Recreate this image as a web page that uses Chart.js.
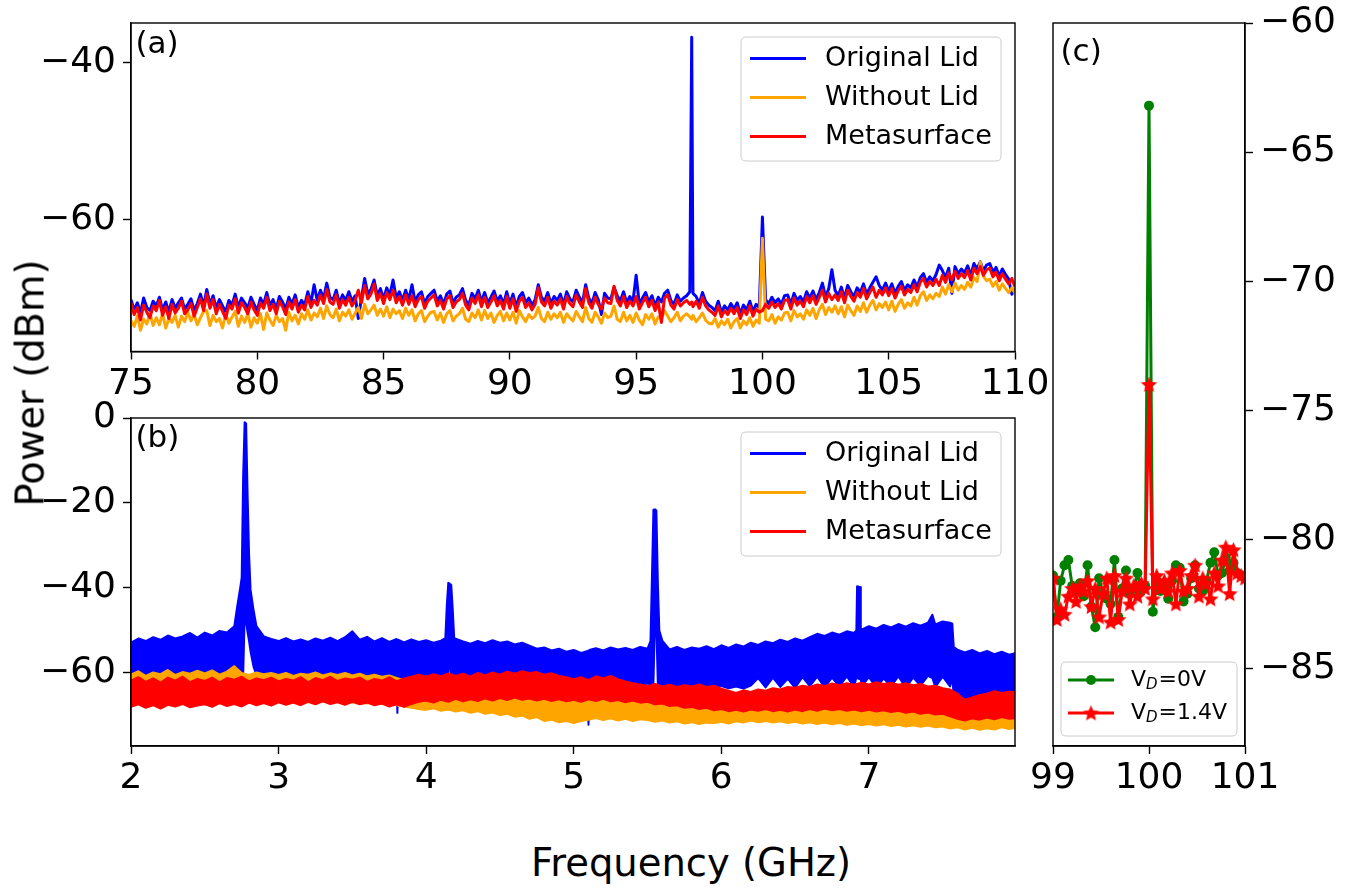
<!DOCTYPE html>
<html><head><meta charset="utf-8">
<script src="https://cdn.jsdelivr.net/npm/chart.js@4.4.0/dist/chart.umd.min.js"></script>
<style>
html,body{margin:0;padding:0;background:#fff;}
body{width:1356px;height:888px;position:relative;overflow:hidden;font-family:"DejaVu Sans",sans-serif;}
canvas{position:absolute;}
#ylab{position:absolute;left:30px;top:383px;transform:translate(-50%,-50%) rotate(-90deg);font-size:38.5px;white-space:nowrap;color:#000;}
#xlab{position:absolute;left:691px;top:862px;transform:translate(-50%,-50%);font-size:38.5px;white-space:nowrap;color:#000;}
</style></head><body>
<canvas id="ca" width="1060" height="410" style="left:0;top:0"></canvas>
<canvas id="cb" width="1060" height="440" style="left:0;top:390px"></canvas>
<canvas id="cc" width="336" height="830" style="left:1020px;top:0"></canvas>
<div id="ylab">Power (dBm)</div>
<div id="xlab">Frequency (GHz)</div>
<script>
// ---------- panel (a) data ----------
const abNames = ['Original Lid', 'Without Lid', 'Metasurface'];
const aXTicks = [75, 80, 85, 90, 95, 100, 105, 110];
const aYTicks = [-60, -40];
const aFreq = [
 75,75.125,75.25,75.375,75.5,75.625,75.75,75.875, 76,76.125,76.25,76.375,76.5,76.625,76.75,76.875,
 77,77.125,77.25,77.375,77.5,77.625,77.75,77.875, 78,78.125,78.25,78.375,78.5,78.625,78.75,78.875,
 79,79.125,79.25,79.375,79.5,79.625,79.75,79.875, 80,80.125,80.25,80.375,80.5,80.625,80.75,80.875,
 81,81.125,81.25,81.375,81.5,81.625,81.75,81.875, 82,82.125,82.25,82.375,82.5,82.625,82.75,82.875,
 83,83.125,83.25,83.375,83.5,83.625,83.75,83.875, 84,84.125,84.25,84.375,84.5,84.625,84.75,84.875,
 85,85.125,85.25,85.375,85.5,85.625,85.75,85.875, 86,86.125,86.25,86.375,86.5,86.625,86.75,86.875,
 87,87.125,87.25,87.375,87.5,87.625,87.75,87.875, 88,88.125,88.25,88.375,88.5,88.625,88.75,88.875,
 89,89.125,89.25,89.375,89.5,89.625,89.75,89.875, 90,90.125,90.25,90.375,90.5,90.625,90.75,90.875,
 91,91.125,91.25,91.375,91.5,91.625,91.75,91.875, 92,92.125,92.25,92.375,92.5,92.625,92.75,92.875,
 93,93.125,93.25,93.375,93.5,93.625,93.75,93.875, 94,94.125,94.25,94.375,94.5,94.625,94.75,94.875,
 95,95.125,95.25,95.375,95.5,95.625,95.75,95.875, 96,96.125,96.25,96.375,96.5,96.625,96.75,96.875,
 97,97.125,97.2,97.25,97.375,97.5,97.625,97.75,97.875,
 98,98.125,98.25,98.375,98.5,98.625,98.75,98.875, 99,99.125,99.25,99.375,99.5,99.625,99.75,99.875,
 100,100.125,100.25,100.375,100.5,100.625,100.75,100.875, 101,101.125,101.25,101.375,101.5,101.625,101.75,101.875,
 102,102.125,102.25,102.375,102.5,102.625,102.75,102.875, 103,103.125,103.25,103.375,103.5,103.625,103.75,103.875,
 104,104.125,104.25,104.375,104.5,104.625,104.75,104.875, 105,105.125,105.25,105.375,105.5,105.625,105.75,105.875,
 106,106.125,106.25,106.375,106.5,106.625,106.75,106.875, 107,107.125,107.25,107.375,107.5,107.625,107.75,107.875,
 108,108.125,108.25,108.375,108.5,108.625,108.75,108.875, 109,109.125,109.25,109.375,109.5,109.625,109.75,109.875,
 110];
const aOrig = [
 -70.2,-71.5,-70.6,-71.9,-70.0,-71.2,-71.6,-70.4, -71.0,-69.9,-71.5,-70.5,-71.8,-70.2,-71.3,-70.6,
 -70.0,-71.4,-70.8,-70.1,-71.6,-70.7,-69.5,-71.0, -68.9,-70.8,-69.7,-71.3,-70.2,-71.0,-71.8,-70.3,
 -70.9,-69.5,-71.2,-70.0,-70.6,-71.3,-69.9,-70.8, -71.6,-70.0,-70.8,-69.3,-71.0,-70.2,-71.4,-69.8,
 -70.5,-71.4,-69.9,-70.8,-69.6,-71.2,-70.3,-70.9, -69.2,-70.6,-68.3,-70.3,-69.0,-70.1,-68.1,-69.9,
 -70.2,-69.0,-70.7,-69.6,-70.3,-69.2,-70.4,-69.7, -72.6,-70.0,-67.5,-69.5,-68.9,-67.7,-69.7,-68.8,
 -70.1,-68.7,-69.6,-67.7,-70.0,-69.2,-70.3,-69.0, -70.2,-68.3,-70.5,-69.6,-69.2,-70.7,-69.8,-69.4,
 -69.0,-70.4,-69.7,-70.8,-69.5,-69.1,-70.6,-69.9, -69.6,-68.8,-70.3,-70.9,-69.4,-70.1,-69.0,-70.5,
 -69.3,-70.6,-69.9,-69.1,-70.4,-69.7,-70.8,-69.2, -70.7,-69.5,-71.1,-69.8,-69.3,-70.6,-70.0,-70.9,
 -70.2,-68.3,-69.9,-70.4,-69.3,-70.7,-69.8,-70.3, -69.5,-70.8,-69.2,-70.1,-70.5,-69.0,-69.9,-70.6,
 -68.3,-70.0,-70.7,-69.3,-70.2,-72.1,-69.4,-70.0, -70.1,-68.6,-69.7,-70.4,-69.2,-70.6,-69.8,-70.4,
 -67.1,-70.8,-70.0,-69.3,-70.5,-69.7,-71.0,-69.9, -70.5,-69.4,-69.0,-70.3,-70.8,-69.6,-70.4,-70.0,
 -69.7,-69.2,-36.8,-69.4,-69.8,-70.7,-69.3,-70.4,-70.9,
 -71.2,-71.6,-70.4,-71.8,-71.0,-71.5,-70.7,-71.4, -70.6,-72.0,-70.9,-71.5,-70.4,-71.7,-70.8,-71.2,
 -59.7,-70.2,-70.7,-69.9,-70.6,-70.1,-70.8,-69.7, -69.6,-70.8,-69.4,-70.3,-69.8,-70.5,-69.2,-70.0,
 -69.1,-70.2,-69.3,-68.1,-69.9,-68.8,-66.4,-69.0, -69.7,-68.6,-70.0,-68.4,-69.2,-69.8,-68.7,-69.3,
 -68.2,-69.5,-68.7,-68.0,-67.3,-68.4,-69.0,-68.1, -69.1,-68.2,-69.4,-68.5,-67.9,-69.0,-68.3,-68.7,
 -67.7,-68.6,-67.4,-66.9,-68.0,-67.3,-67.8,-67.0, -65.8,-66.5,-67.4,-66.2,-69.4,-66.0,-66.9,-66.3,
 -66.8,-65.9,-67.1,-65.6,-66.3,-65.4,-66.5,-65.8, -65.6,-66.7,-66.1,-67.2,-66.3,-67.0,-67.6,-69.5,
 -68.8];
const aNoLid = [
 -72.9,-73.6,-72.3,-74.1,-72.7,-73.3,-71.9,-73.5, -72.5,-73.4,-72.0,-73.8,-72.6,-73.1,-72.2,-73.7,
 -72.3,-73.0,-71.8,-72.9,-72.1,-73.4,-72.5,-71.7, -71.6,-73.5,-72.2,-73.0,-72.6,-73.8,-72.0,-73.2,
 -72.4,-71.7,-73.6,-72.3,-73.1,-72.0,-73.7,-72.5, -73.2,-72.0,-74.0,-71.9,-72.8,-73.5,-72.2,-73.0,
 -72.6,-74.1,-71.8,-72.9,-72.2,-73.3,-72.0,-72.7, -71.5,-72.8,-71.9,-72.4,-71.3,-72.6,-71.0,-72.1,
 -72.5,-71.4,-72.9,-71.8,-72.3,-71.5,-72.7,-71.9, -71.2,-72.6,-70.8,-72.0,-71.5,-70.9,-72.2,-71.4,
 -72.3,-71.1,-72.5,-71.4,-72.0,-71.6,-72.6,-71.3, -72.2,-71.5,-72.9,-72.0,-71.6,-73.0,-72.3,-71.8,
 -71.7,-72.8,-71.9,-73.1,-72.0,-71.6,-72.9,-72.3, -72.0,-71.3,-72.7,-73.0,-71.9,-72.5,-71.5,-72.8,
 -71.6,-72.6,-71.9,-73.1,-72.2,-71.7,-72.9,-71.9, -72.8,-71.8,-73.2,-71.6,-72.4,-73.0,-72.1,-72.6,
 -72.3,-71.2,-72.6,-73.0,-71.8,-72.7,-72.0,-72.5, -71.8,-73.1,-72.0,-72.5,-72.9,-71.7,-72.4,-73.0,
 -71.2,-72.6,-73.1,-71.8,-72.4,-73.2,-71.9,-72.5, -72.3,-71.0,-72.7,-73.0,-71.8,-72.9,-72.2,-73.1,
 -71.9,-72.8,-73.4,-72.1,-72.7,-72.0,-73.3,-72.4, -72.6,-71.6,-72.3,-73.0,-72.5,-71.8,-72.9,-72.3,
 -72.0,-72.4,-72.7,-72.2,-73.0,-72.5,-71.9,-72.8,-73.2,
 -73.3,-72.6,-73.7,-72.9,-73.4,-72.7,-73.8,-73.0, -72.6,-73.8,-72.9,-73.4,-72.5,-73.6,-72.8,-73.2,
 -62.4,-72.7,-72.9,-72.1,-73.2,-72.4,-72.8,-71.9, -71.8,-72.9,-71.6,-72.4,-72.0,-72.7,-71.5,-72.2,
 -71.3,-72.6,-71.5,-70.8,-72.1,-71.2,-71.8,-71.0, -72.0,-71.1,-72.4,-70.9,-71.6,-72.2,-71.0,-71.7,
 -70.6,-71.8,-70.9,-70.3,-71.5,-70.7,-71.2,-70.5, -71.5,-70.4,-71.7,-70.8,-70.2,-71.3,-70.6,-71.0,
 -69.9,-70.9,-69.7,-69.2,-70.3,-69.6,-70.1,-69.4, -69.8,-68.6,-69.5,-68.3,-69.2,-68.1,-69.0,-68.4,
 -68.9,-68.0,-68.6,-67.4,-67.9,-65.4,-67.2,-67.8, -67.6,-68.5,-67.9,-69.0,-68.2,-68.8,-69.3,-68.7,
 -69.4];
const aMeta = [
 -70.6,-72.1,-71.2,-72.8,-70.9,-71.8,-72.5,-71.0, -71.6,-70.3,-72.2,-71.1,-72.6,-70.8,-71.9,-71.3,
 -70.4,-72.0,-71.5,-70.7,-72.3,-71.2,-70.1,-71.6, -69.5,-71.3,-70.2,-72.0,-70.8,-71.7,-72.6,-70.9,
 -71.4,-70.1,-71.9,-70.6,-71.2,-72.0,-70.5,-71.5, -72.2,-70.6,-71.3,-69.9,-71.6,-70.8,-72.0,-70.4,
 -71.1,-72.1,-70.5,-71.4,-70.2,-71.8,-70.9,-71.5, -69.8,-71.2,-70.3,-70.9,-69.6,-70.7,-68.9,-70.5,
 -70.8,-69.6,-71.3,-70.2,-70.9,-69.9,-71.0,-70.3, -69.0,-70.6,-68.4,-70.1,-69.5,-68.2,-70.3,-69.4,
 -70.7,-69.3,-70.2,-69.0,-70.6,-69.8,-70.9,-69.6, -70.8,-69.7,-71.1,-70.2,-69.8,-71.3,-70.4,-70.0,
 -69.6,-71.0,-70.3,-71.4,-70.1,-69.7,-71.2,-70.5, -70.2,-69.4,-70.9,-71.5,-70.0,-70.7,-69.6,-71.1,
 -69.9,-71.2,-70.5,-69.7,-71.0,-70.3,-71.4,-69.8, -71.3,-70.1,-71.7,-70.4,-69.9,-71.2,-70.6,-71.5,
 -70.8,-68.7,-70.5,-71.0,-69.9,-71.3,-70.4,-70.9, -70.1,-71.4,-69.8,-70.7,-71.1,-69.6,-70.5,-71.2,
 -68.8,-70.6,-71.3,-69.9,-70.8,-71.4,-70.0,-70.6, -70.7,-68.5,-70.3,-71.0,-69.8,-71.2,-70.4,-71.0,
 -69.8,-71.4,-70.6,-69.9,-71.1,-70.3,-71.6,-70.5, -73.1,-70.0,-69.6,-70.9,-71.4,-70.2,-71.0,-70.6,
 -70.3,-70.8,-70.5,-71.1,-70.4,-71.3,-69.9,-71.0,-71.5,
 -71.8,-72.2,-71.0,-72.4,-71.6,-72.1,-71.3,-72.0, -71.2,-72.6,-71.5,-72.1,-71.0,-72.3,-71.4,-71.8,
 -71.6,-70.8,-71.3,-70.5,-71.2,-70.7,-71.4,-70.3, -70.2,-71.4,-70.0,-70.9,-70.4,-71.1,-69.8,-70.6,
 -69.7,-70.8,-69.9,-69.0,-70.5,-69.4,-70.2,-69.6, -70.3,-69.2,-70.6,-69.0,-69.8,-70.4,-69.3,-69.9,
 -68.8,-70.1,-69.3,-68.6,-69.9,-69.0,-69.6,-68.7, -69.7,-68.8,-70.0,-69.1,-68.5,-69.6,-68.9,-69.3,
 -68.3,-69.2,-68.0,-67.5,-68.6,-67.9,-68.4,-67.6, -68.4,-67.1,-68.0,-66.8,-67.7,-66.6,-67.5,-66.9,
 -67.4,-66.5,-67.7,-66.2,-66.9,-66.0,-67.1,-66.4, -66.2,-67.3,-66.7,-67.8,-66.9,-67.6,-68.2,-67.5,
 -68.6];

// ---------- panel (b) data (noise bands: upper / lower envelope) ----------
const bXTicks = [2, 3, 4, 5, 6, 7];
const bYTicks = [-60, -40, -20, 0];
const bBlueFreq = [
 2.00,2.05,2.10,2.15,2.20,2.25,2.30,2.35,2.40,2.45,2.50,2.55,2.60,2.65,
 2.70,2.72,2.74,2.75,2.76,2.77,2.78,2.79,2.80,2.81,2.83,2.85,
 2.90,2.95,3.00,3.05,3.10,3.15,3.20,3.25,3.30,3.35,3.40,3.45,3.50,3.55,3.60,3.65,3.70,3.75,3.80,
 3.805,3.81,3.85,3.90,3.95,4.00,4.05,4.10,4.13,
 4.14,4.15,4.16,4.17,4.18,4.19,
 4.25,4.30,4.35,4.40,4.45,4.50,4.55,4.60,4.65,4.70,4.75,4.80,4.85,4.90,4.95,5.00,5.05,
 5.095,5.10,5.105,5.15,5.20,5.25,5.30,5.35,5.40,5.45,5.50,
 5.52,5.53,5.54,5.55,5.56,5.57,5.58,5.60,
 5.65,5.70,5.75,5.80,5.85,5.90,5.95,6.00,6.05,6.10,6.15,6.20,6.25,6.30,6.35,6.40,6.45,6.50,6.55,6.60,6.65,6.70,6.75,6.80,6.85,6.90,
 6.915,6.92,6.94,6.945,
 6.95,7.00,7.05,7.10,7.15,7.20,7.25,7.30,7.35,7.40,7.43,7.45,7.50,7.55,7.565,
 7.575,7.60,7.65,7.70,7.75,7.80,7.85,7.90,7.95,8.00];
const bOrigHi = [
 -52.9,-51.9,-52.5,-51.6,-52.2,-51.2,-51.9,-51.4,-50.6,-51.7,-50.5,-51.2,-50.1,-50.5,
 -49.0,-44.3,-40.0,-37.6,-13.7,-1.0,-1.3,-18.0,-32.0,-40.4,-45.1,-49.0,
 -51.4,-52.0,-52.5,-51.8,-52.6,-52.1,-52.7,-51.9,-52.4,-51.7,-52.5,-51.6,-50.2,-52.2,-51.5,-52.6,-51.8,-52.7,-52.0,
 -52.4,-52.2,-52.8,-52.1,-52.7,-52.3,-52.9,-52.4,-51.8,
 -44.0,-38.8,-39.0,-39.3,-45.0,-51.8,
 -52.6,-53.1,-52.5,-53.0,-52.3,-52.9,-52.6,-53.3,-52.9,-53.6,-54.3,-54.0,-54.7,-54.3,-55.0,-54.6,-55.3,
 -54.8,-55.1,-54.6,-54.2,-54.7,-54.0,-54.5,-54.1,-54.6,-53.9,-54.3,
 -52.5,-37.3,-21.6,-21.5,-21.8,-38.8,-50.0,-52.4,
 -54.5,-53.9,-54.6,-54.0,-54.3,-53.7,-54.4,-53.5,-54.1,-53.3,-53.8,-52.9,-53.4,-52.6,-53.0,-52.2,-52.7,-51.9,-52.4,-51.6,-50.8,-51.3,-50.5,-51.0,-50.2,-50.6,
 -50.0,-39.6,-39.8,-49.5,
 -49.8,-49.0,-49.6,-48.7,-49.3,-48.5,-49.1,-48.3,-48.9,-48.2,-46.3,-48.6,-47.9,-48.2,-48.4,
 -53.9,-54.5,-55.2,-54.6,-55.4,-54.8,-55.6,-55.0,-55.7,-55.3];
const bOrigLo = [
 -61.6,-62.0,-61.3,-61.9,-61.2,-61.8,-61.4,-62.1,-61.5,-61.9,-61.3,-61.7,-61.2,-61.6,
 -61.0,-61.2,-61.0,-61.3,-60.8,-46.7,-48.0,-50.5,-52.5,-55.0,-58.5,-60.5,
 -61.2,-61.6,-61.1,-61.7,-61.3,-61.8,-61.2,-61.6,-61.1,-61.7,-61.3,-61.8,-61.4,-61.9,-61.5,-62.0,-61.6,-62.1,-61.7,
 -69.4,-61.8,-61.4,-61.9,-61.3,-61.8,-61.4,-61.9,-61.5,
 -61.7,-61.5,-53.7,-61.6,-61.4,-61.8,
 -61.3,-61.8,-61.4,-61.9,-61.5,-62.0,-61.6,-62.1,-61.7,-62.2,-61.9,-62.3,-62.0,-62.4,-62.1,-62.5,-62.2,
 -62.4,-72.2,-62.3,-62.6,-62.2,-62.7,-62.3,-62.8,-62.4,-62.9,-62.5,
 -62.7,-62.6,-62.8,-48.2,-49.5,-62.9,-62.8,-63.0,
 -63.2,-62.8,-63.3,-62.9,-63.4,-63.0,-63.5,-63.1,-63.6,-63.2,-63.7,-63.0,-61.2,-63.4,-61.1,-63.3,-61.4,-63.5,-61.0,-63.1,-60.9,-63.4,-61.1,-63.2,-60.8,-63.3,
 -61.0,-61.2,-61.5,-61.3,
 -63.2,-61.0,-63.5,-61.3,-63.1,-60.8,-63.4,-61.1,-63.0,-60.7,-61.2,-63.3,-60.9,-63.2,-61.0,
 -65.5,-66.3,-65.8,-66.6,-66.0,-66.8,-66.2,-66.7,-66.1,-66.5];
const bFreq = [
 2.00,2.05,2.10,2.15,2.20,2.25,2.30,2.35,2.40,2.45, 2.50,2.55,2.60,2.65,2.70,2.75,2.80,2.85,2.90,2.95,
 3.00,3.05,3.10,3.15,3.20,3.25,3.30,3.35,3.40,3.45, 3.50,3.55,3.60,3.65,3.70,3.75,3.80,3.85,3.90,3.95,
 4.00,4.05,4.10,4.15,4.20,4.25,4.30,4.35,4.40,4.45, 4.50,4.55,4.60,4.65,4.70,4.75,4.80,4.85,4.90,4.95,
 5.00,5.05,5.10,5.15,5.20,5.25,5.30,5.35,5.40,5.45, 5.50,5.55,5.60,5.65,5.70,5.75,5.80,5.85,5.90,5.95,
 6.00,6.05,6.10,6.15,6.20,6.25,6.30,6.35,6.40,6.45, 6.50,6.55,6.60,6.65,6.70,6.75,6.80,6.85,6.90,6.95,
 7.00,7.05,7.10,7.15,7.20,7.25,7.30,7.35,7.40,7.45, 7.50,7.55,7.60,7.65,7.70,7.75,7.80,7.85,7.90,7.95,
 8.00];
const bNoLidHi = [
 -60.4,-59.6,-60.7,-59.9,-60.3,-59.3,-60.5,-59.8,-60.2,-59.5, -60.1,-59.4,-60.4,-59.7,-58.4,-60.0,-60.5,-59.9,-60.3,-60.0,
 -60.5,-60.0,-60.7,-60.2,-60.4,-59.9,-60.6,-60.1,-60.5,-60.0, -60.6,-60.2,-60.8,-60.4,-60.9,-60.6,-61.2,-61.7,-62.3,-62.8,
 -63.0,-63.2,-62.8,-63.1,-62.9,-63.3,-63.0,-63.2,-62.8,-63.1, -62.9,-63.2,-62.8,-63.1,-63.0,-63.3,-63.1,-63.4,-63.6,-63.8,
 -64.0,-63.8,-64.1,-63.9,-64.2,-64.0,-64.3,-64.6,-64.8,-65.0, -65.2,-65.4,-65.6,-65.8,-66.0,-66.2,-66.4,-66.6,-66.8,-67.0,
 -67.0,-67.2,-67.2,-67.2,-67.0,-67.0,-66.8,-66.8,-66.8,-67.0, -67.0,-67.0,-66.8,-66.8,-66.8,-67.0,-67.0,-67.0,-67.2,-67.2,
 -67.2,-67.4,-67.4,-67.6,-67.6,-67.8,-67.8,-68.0,-68.0,-68.2, -68.2,-68.6,-69.0,-69.4,-69.4,-69.4,-69.4,-69.4,-69.2,-69.2,
 -69.2];
const bNoLidLo = [
 -67.0,-66.6,-67.2,-66.8,-67.3,-66.7,-67.1,-66.5,-67.0,-66.8, -66.9,-66.6,-67.2,-66.7,-67.0,-66.5,-67.1,-66.8,-66.9,-66.6,
 -66.8,-66.4,-67.0,-66.6,-66.9,-66.5,-66.7,-66.3,-66.8,-66.6, -67.0,-66.7,-67.2,-66.9,-67.4,-67.1,-67.6,-67.9,-68.2,-68.5,
 -68.7,-68.3,-68.9,-68.6,-69.1,-68.8,-69.4,-69.0,-69.6,-69.3, -69.9,-69.6,-70.3,-70.0,-70.8,-70.4,-71.3,-71.0,-71.6,-71.3,
 -71.8,-71.3,-71.0,-70.6,-71.1,-70.7,-71.2,-70.8,-71.3,-70.9, -71.1,-71.5,-71.2,-71.7,-71.4,-71.9,-71.6,-72.0,-71.7,-71.8,
 -71.5,-71.9,-71.4,-71.7,-71.2,-71.6,-71.3,-71.7,-71.4,-71.8, -71.5,-71.9,-71.6,-72.0,-71.7,-72.1,-71.8,-72.2,-71.9,-72.3,
 -72.0,-72.4,-72.1,-72.5,-72.2,-72.6,-72.3,-72.7,-72.4,-72.8, -72.6,-73.1,-72.8,-73.3,-72.9,-73.4,-73.0,-73.3,-72.8,-73.2,
 -72.9];
const bMetaHi = [
 -61.8,-61.0,-62.1,-61.3,-62.3,-61.1,-61.8,-60.9,-62.2,-61.4, -61.9,-61.1,-62.2,-61.2,-61.6,-60.9,-62.0,-61.3,-61.7,-61.1,
 -62.0,-61.4,-61.8,-61.0,-62.2,-61.2,-61.7,-60.9,-61.9,-61.3, -61.6,-61.1,-62.1,-61.4,-61.8,-61.0,-62.0,-61.3,-60.9,-60.4,
 -60.9,-60.3,-60.8,-60.1,-60.7,-60.2,-60.9,-60.0,-60.6,-59.9, -60.4,-59.7,-60.2,-59.6,-60.0,-59.8,-60.4,-60.1,-60.7,-61.0,
 -61.5,-61.0,-61.7,-60.8,-61.3,-60.7,-61.5,-62.0,-62.4,-62.7, -63.1,-62.6,-63.2,-62.8,-63.3,-62.9,-63.2,-62.7,-63.3,-63.0,
 -63.7,-64.2,-64.7,-64.1,-64.5,-63.9,-64.2,-63.6,-63.9,-63.3, -63.5,-63.0,-63.3,-62.7,-63.1,-62.5,-62.9,-62.4,-62.8,-62.3,
 -62.7,-62.2,-62.6,-62.3,-62.8,-62.4,-62.9,-62.6,-63.2,-63.0, -63.6,-63.9,-64.9,-66.3,-65.8,-65.2,-64.9,-64.3,-64.7,-64.4,
 -64.6];
const bMetaLo = [
 -68.0,-67.4,-68.2,-67.6,-68.4,-67.5,-67.9,-67.3,-68.1,-67.7, -67.4,-68.0,-67.1,-67.8,-67.3,-67.9,-67.0,-67.6,-67.1,-67.7,
 -66.9,-67.5,-67.0,-67.6,-66.8,-67.4,-66.7,-67.3,-66.9,-67.5, -66.8,-67.4,-67.0,-67.6,-67.2,-67.9,-67.4,-68.0,-67.3,-66.8,
 -66.5,-67.0,-66.3,-66.8,-66.1,-66.7,-66.2,-66.6,-66.0,-66.5, -65.9,-66.4,-65.8,-66.3,-66.0,-66.5,-66.1,-66.6,-66.2,-66.7,
 -66.3,-66.8,-66.2,-66.6,-66.1,-66.7,-66.4,-66.9,-66.5,-67.0, -66.8,-67.4,-67.2,-67.8,-67.6,-68.2,-68.0,-68.5,-68.2,-68.8,
 -68.5,-69.0,-68.7,-69.1,-68.6,-68.9,-68.5,-69.0,-68.7,-69.1, -68.6,-69.0,-68.5,-68.9,-68.4,-68.8,-68.5,-68.9,-68.6,-69.0,
 -68.7,-69.1,-68.8,-69.2,-68.9,-69.4,-69.1,-69.6,-69.3,-69.8, -69.6,-70.2,-70.8,-71.2,-70.7,-71.0,-70.5,-70.9,-70.4,-70.8,
 -70.6];

// ---------- panel (c) data ----------
const cNames = ['V_D=0V', 'V_D=1.4V'];
const cXTicks = [99, 100, 101];
const cYTicks = [-85, -80, -75, -70, -65, -60];
const cFreq = [
 99,99.04,99.08,99.12,99.16,99.2,99.24,99.28,99.32,99.36,99.4,99.44,99.48,99.52,99.56,99.6,99.64,99.68,99.72,99.76,99.8,99.84,99.88,99.92,99.96,
 100,
 100.04,100.08,100.12,100.16,100.2,100.24,100.28,100.32,100.36,100.4,100.44,100.48,100.52,100.56,100.6,100.64,100.68,100.72,100.76,100.8,100.84,100.88,100.92,100.96,101];
const cV0 = [
 -81.4,-83.0,-81.6,-81.0,-80.8,-81.8,-82.0,-81.7,-82.2,-81.0,-82.6,-83.4,-81.5,-82.1,-82.3,-82.5,-80.8,-83.0,-81.9,-81.2,-82.1,-81.9,-81.3,-82.0,-81.8,
 -63.2,
 -82.8,-81.6,-82.0,-81.8,-82.3,-81.6,-81.0,-81.1,-82.4,-82.1,-81.5,-81.0,-81.9,-82.0,-81.6,-80.9,-80.5,-81.4,-81.3,-80.7,-81.2,-80.9,-81.3,-81.4,-81.5];
const cV14 = [
 -81.5,-83.1,-82.7,-82.9,-82.2,-81.9,-82.4,-81.8,-82.0,-81.6,-82.6,-81.9,-83.0,-82.1,-81.5,-83.2,-81.4,-83.1,-82.0,-81.5,-82.5,-81.8,-82.2,-81.7,-81.9,
 -74.0,
 -82.3,-81.4,-81.9,-81.6,-82.0,-81.3,-82.5,-81.2,-82.0,-81.9,-81.4,-81.0,-82.2,-81.5,-81.7,-82.3,-81.3,-81.8,-80.8,-80.3,-82.1,-80.4,-81.3,-81.4,-81.5];

// ---------- styling / helpers ----------
const FONT = "'DejaVu Sans'";
const BLUE = '#0000ff', ORANGE = '#ffa500', RED = '#ff0000', GREEN = '#008000';
const pts = (xs, ys) => xs.map((x, i) => ({x: x, y: ys[i]}));
const fmt = v => String(v).replace('-', '\u2212');

function axis(kind, min, max, ticks, size, position) {
  const o = {
    type: 'linear', min: min, max: max, position: position,
    afterBuildTicks: s => { s.ticks = ticks.map(v => ({value: v})); },
    grid: {drawOnChartArea: false, drawTicks: true, tickLength: 8, tickWidth: 1.4, tickColor: '#000'},
    border: {display: true, color: '#000', width: 1.4},
    ticks: {color: '#000', font: {family: FONT, size: 36, lineHeight: 1}, padding: 7,
            maxRotation: 0, autoSkip: false, callback: v => fmt(v)}
  };
  if (kind === 'x') o.afterFit = s => { s.height = size; s.paddingLeft = 0; s.paddingRight = 0; };
  else o.afterFit = s => { s.width = size; s.paddingTop = 0; s.paddingBottom = 0; };
  return o;
}

function framePlugin() {
  return {id: 'frame', afterDraw(ch) {
    const a = ch.chartArea, c = ch.ctx;
    c.save(); c.strokeStyle = '#000'; c.lineWidth = 1.4;
    c.strokeRect(a.left, a.top, a.right - a.left, a.bottom - a.top); c.restore();
  }};
}
function panelLabel(text, dx, dy) {
  return {id: 'plabel', afterDraw(ch) {
    const a = ch.chartArea, c = ch.ctx;
    c.save(); c.font = '31px ' + FONT; c.fillStyle = '#000'; c.textBaseline = 'middle'; c.textAlign = 'left';
    c.fillText(text, a.left + dx, a.top + dy); c.restore();
  }};
}
function rrect(c, x, y, w, h, r) {
  c.beginPath(); c.moveTo(x + r, y); c.lineTo(x + w - r, y); c.quadraticCurveTo(x + w, y, x + w, y + r);
  c.lineTo(x + w, y + h - r); c.quadraticCurveTo(x + w, y + h, x + w - r, y + h);
  c.lineTo(x + r, y + h); c.quadraticCurveTo(x, y + h, x, y + h - r);
  c.lineTo(x, y + r); c.quadraticCurveTo(x, y, x + r, y); c.closePath();
}
function drawLabel(c, label, x, y, size) {
  c.fillStyle = '#000'; c.textBaseline = 'middle'; c.textAlign = 'left';
  const i = label.indexOf('_');
  c.font = size + 'px ' + FONT;
  if (i < 0) { c.fillText(label, x, y); return; }
  const a = label.slice(0, i), sub = label.charAt(i + 1), rest = label.slice(i + 2);
  c.fillText(a, x, y); x += c.measureText(a).width;
  c.font = 'italic ' + Math.round(size * 0.7) + 'px ' + FONT;
  c.fillText(sub, x, y + size * 0.22); x += c.measureText(sub).width + 1;
  c.font = size + 'px ' + FONT; c.fillText(rest, x, y);
}
function boxLegend(cfg) {
  return {id: 'boxLegend', afterDraw(ch) {
    const a = ch.chartArea, c = ch.ctx, x0 = a.left + cfg.dx, y0 = a.top + cfg.dy;
    c.save();
    rrect(c, x0, y0, cfg.w, cfg.h, 5);
    c.fillStyle = 'rgba(255,255,255,0.8)'; c.fill();
    c.lineWidth = 1; c.strokeStyle = '#cccccc'; c.stroke();
    cfg.items.forEach((it, i) => {
      const y = y0 + cfg.row0 + i * cfg.gap;
      c.strokeStyle = it.color; c.lineWidth = 3; c.lineCap = 'butt';
      c.beginPath(); c.moveTo(x0 + cfg.l0, y); c.lineTo(x0 + cfg.l1, y); c.stroke();
      const mx = x0 + (cfg.l0 + cfg.l1) / 2;
      if (it.marker === 'circle') { c.fillStyle = it.color; c.beginPath(); c.arc(mx, y, 5, 0, Math.PI * 2); c.fill(); }
      else if (it.marker) { c.drawImage(it.marker, mx - it.marker.width / 2, y - it.marker.height / 2); }
      drawLabel(c, it.label, x0 + cfg.tx, y, cfg.size);
    });
    c.restore();
  }};
}
function starImage(color, R) {
  const s = Math.ceil(R * 2 + 2), cv = document.createElement('canvas');
  cv.width = s; cv.height = s;
  const g = cv.getContext('2d'); g.fillStyle = color; g.beginPath();
  for (let k = 0; k < 10; k++) {
    const r = (k % 2) ? R * 0.46 : R, ang = -Math.PI / 2 + k * Math.PI / 5;
    g.lineTo(s / 2 + r * Math.cos(ang), s / 2 + r * Math.sin(ang) + R * 0.08);
  }
  g.closePath(); g.fill(); return cv;
}
const starImg = starImage(RED, 8.5);

const common = {
  animation: false, responsive: false, devicePixelRatio: 1, parsing: false, normalized: true, events: [],
  plugins: {legend: {display: false}, tooltip: {enabled: false}},
  elements: {line: {tension: 0, borderJoinStyle: 'round'}, point: {radius: 0}}
};

// ---------- panel (a) ----------
new Chart(document.getElementById('ca'), {
  type: 'line',
  data: {datasets: [
    {label: abNames[0], data: pts(aFreq, aOrig), borderColor: BLUE, borderWidth: 3, pointRadius: 0, order: 2},
    {label: abNames[1], data: pts(aFreq, aNoLid), borderColor: ORANGE, borderWidth: 3, pointRadius: 0, order: 1},
    {label: abNames[2], data: pts(aFreq, aMeta), borderColor: RED, borderWidth: 3, pointRadius: 0, order: 0}
  ]},
  options: Object.assign({}, common, {
    layout: {padding: {left: 0, right: 45, top: 23, bottom: 0}},
    scales: {x: axis('x', 75, 110, aXTicks, 58.5, 'bottom'), y: axis('y', -76.8, -35.0, aYTicks, 131, 'left')}
  }),
  plugins: [framePlugin(), panelLabel('(a)', 4.5, 22),
    boxLegend({dx: 610, dy: 14, w: 260, h: 124, row0: 21.5, gap: 39, l0: 9, l1: 65, tx: 84, size: 27,
      items: [{label: abNames[0], color: BLUE}, {label: abNames[1], color: ORANGE}, {label: abNames[2], color: RED}]})]
});

// ---------- panel (b) ----------
new Chart(document.getElementById('cb'), {
  type: 'line',
  data: {datasets: [
    {label: abNames[0], data: pts(bBlueFreq, bOrigHi), borderColor: BLUE, borderWidth: 2, pointRadius: 0, order: 2},
    {label: abNames[0] + ' low', data: pts(bBlueFreq, bOrigLo), borderColor: BLUE, backgroundColor: BLUE, fill: '-1', borderWidth: 2, pointRadius: 0, order: 2},
    {label: abNames[1], data: pts(bFreq, bNoLidHi), borderColor: ORANGE, borderWidth: 2, pointRadius: 0, order: 1},
    {label: abNames[1] + ' low', data: pts(bFreq, bNoLidLo), borderColor: ORANGE, backgroundColor: ORANGE, fill: '-1', borderWidth: 2, pointRadius: 0, order: 1},
    {label: abNames[2], data: pts(bFreq, bMetaHi), borderColor: RED, borderWidth: 2, pointRadius: 0, order: 0},
    {label: abNames[2] + ' low', data: pts(bFreq, bMetaLo), borderColor: RED, backgroundColor: RED, fill: '-1', borderWidth: 2, pointRadius: 0, order: 0}
  ]},
  options: Object.assign({}, common, {
    layout: {padding: {left: 0, right: 45, top: 28, bottom: 0}},
    scales: {x: axis('x', 2, 7.99, bXTicks, 84, 'bottom'), y: axis('y', -77.2, 0, bYTicks, 131, 'left')}
  }),
  plugins: [framePlugin(), panelLabel('(b)', 4.5, 21),
    boxLegend({dx: 610, dy: 14, w: 260, h: 124, row0: 21.5, gap: 39, l0: 9, l1: 65, tx: 84, size: 27,
      items: [{label: abNames[0], color: BLUE}, {label: abNames[1], color: ORANGE}, {label: abNames[2], color: RED}]})]
});

// ---------- panel (c) ----------
new Chart(document.getElementById('cc'), {
  type: 'line',
  data: {datasets: [
    {label: cNames[0], data: pts(cFreq, cV0), borderColor: GREEN, backgroundColor: GREEN, borderWidth: 3,
     pointStyle: 'circle', pointRadius: 5, pointBorderWidth: 0, order: 1},
    {label: cNames[1], data: pts(cFreq, cV14), borderColor: RED, backgroundColor: RED, borderWidth: 3,
     pointStyle: starImg, pointRadius: 8, pointBorderWidth: 0, order: 0}
  ]},
  options: Object.assign({}, common, {
    layout: {padding: {left: 33, right: 0, top: 23, bottom: 0}},
    scales: {x: axis('x', 99, 101, cXTicks, 84, 'bottom'), y: axis('y', -88, -60, cYTicks, 111, 'right')}
  }),
  plugins: [framePlugin(), panelLabel('(c)', 7.5, 29.5),
    boxLegend({dx: 8, dy: 639, w: 176, h: 74, row0: 18, gap: 33, l0: 7, l1: 53, tx: 70, size: 22,
      items: [{label: cNames[0], color: GREEN, marker: 'circle'}, {label: cNames[1], color: RED, marker: starImg}]})]
});
</script>
</body></html>
